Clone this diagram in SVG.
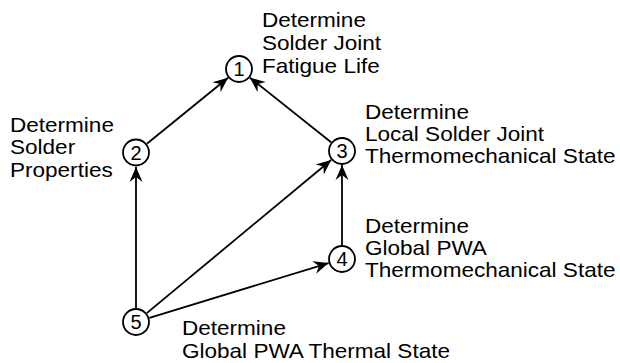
<svg xmlns="http://www.w3.org/2000/svg" width="620" height="363" viewBox="0 0 620 363">
<style>
.node circle{fill:#fff;stroke:#000;stroke-width:1.8}
.num{font-family:"Liberation Sans",Arial,sans-serif;font-size:20px;fill:#000;text-anchor:middle}
.lbl{font-family:"Liberation Sans",Arial,sans-serif;font-size:20.5px;fill:#000}
.edge{stroke:#000;stroke-width:1.8;fill:none;marker-end:url(#arr)}
</style>
<defs>
<marker id="arr" markerUnits="userSpaceOnUse" markerWidth="20" markerHeight="16" viewBox="-16 -8 18 16" refX="0" refY="0" orient="auto">
<path d="M0,0 L-15,-6.5 L-10,0 L-15,6.5 Z" fill="#000"/>
</marker>
</defs>
<rect width="620" height="363" fill="#fff"/>
<g id="connectors">
<line class="edge" x1="146.9" y1="143.7" x2="228.1" y2="77.8"/>
<line class="edge" x1="331.1" y1="142.3" x2="249.9" y2="77.7"/>
<line class="edge" x1="136" y1="308" x2="136" y2="167"/>
<line class="edge" x1="342" y1="245" x2="342" y2="165"/>
<line class="edge" x1="146.8" y1="313.1" x2="331.2" y2="160"/>
<line class="edge" x1="149.4" y1="317.9" x2="328.6" y2="263.1"/>
</g>
<g id="node1" class="node">
<circle cx="239" cy="69" r="13"/>
<text class="num" x="239" y="76">1</text>
<g transform="translate(262,0) scale(1.1,1)">
<text class="lbl" x="0" y="27.5">Determine</text>
<text class="lbl" x="0" y="50.5">Solder Joint</text>
<text class="lbl" x="0" y="73">Fatigue Life</text>
</g>
</g>
<g id="node2" class="node">
<circle cx="136" cy="152.5" r="13"/>
<text class="num" x="136" y="159.5">2</text>
<g transform="translate(10,0) scale(1.1,1)">
<text class="lbl" x="0" y="132">Determine</text>
<text class="lbl" x="0" y="154.5">Solder</text>
<text class="lbl" x="0" y="177">Properties</text>
</g>
</g>
<g id="node3" class="node">
<circle cx="342" cy="151" r="13"/>
<text class="num" x="342" y="158">3</text>
<g transform="translate(365,0) scale(1.1,1)">
<text class="lbl" x="0" y="119">Determine</text>
<text class="lbl" x="0" y="141">Local Solder Joint</text>
<text class="lbl" x="0" y="163.5">Thermomechanical State</text>
</g>
</g>
<g id="node4" class="node">
<circle cx="342" cy="259" r="13"/>
<text class="num" x="342" y="266">4</text>
<g transform="translate(365,0) scale(1.1,1)">
<text class="lbl" x="0" y="233.5">Determine</text>
<text class="lbl" x="0" y="255.5">Global PWA</text>
<text class="lbl" x="0" y="277.5">Thermomechanical State</text>
</g>
</g>
<g id="node5" class="node">
<circle cx="136" cy="322" r="13"/>
<text class="num" x="136" y="329">5</text>
<g transform="translate(182,0) scale(1.1,1)">
<text class="lbl" x="0" y="335.5">Determine</text>
<text class="lbl" x="0" y="358">Global PWA Thermal State</text>
</g>
</g>
</svg>
